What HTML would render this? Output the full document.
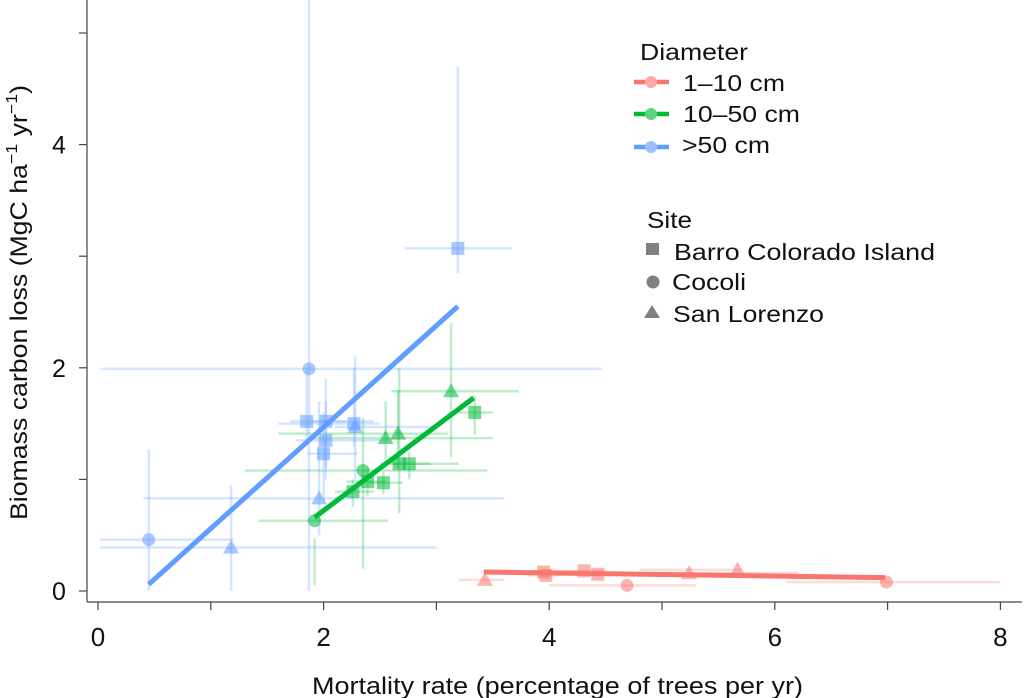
<!DOCTYPE html>
<html><head><meta charset="utf-8"><style>
body{margin:0;background:#fff}
svg{display:block;font-family:"Liberation Sans",sans-serif}
</style></head><body>
<svg id="chart" width="1024" height="698" viewBox="0 0 1024 698">
<g id="bars"></g>
<g id="marks"></g>
<g id="lines"></g>
<g id="axes"></g>
<text x="312" y="694" font-size="24" textLength="491" lengthAdjust="spacingAndGlyphs" fill="#111">Mortality rate (percentage of trees per yr)</text>
<text transform="translate(27,520) rotate(-90)" font-size="24" textLength="435" lengthAdjust="spacingAndGlyphs" fill="#111">Biomass carbon loss (MgC ha<tspan dy="-10" font-size="16">−1</tspan><tspan dy="10"> yr</tspan><tspan dy="-10" font-size="16">−1</tspan><tspan dy="10">)</tspan></text>
<g font-size="23" fill="#111">
<text x="640" y="60" textLength="108" lengthAdjust="spacingAndGlyphs">Diameter</text>
<g><line x1="634" y1="82" x2="669" y2="82" stroke="#f8766d" stroke-width="4.5"/><circle cx="651" cy="82" r="6" fill="#fbaaa4"/><text x="683" y="91" textLength="102" lengthAdjust="spacingAndGlyphs">1–10 cm</text></g>
<g><line x1="634" y1="114" x2="669" y2="114" stroke="#00ba38" stroke-width="4.5"/><circle cx="651" cy="114" r="6" fill="#5dd37f"/><text x="683" y="122" textLength="117" lengthAdjust="spacingAndGlyphs">10–50 cm</text></g>
<g><line x1="634" y1="147" x2="669" y2="147" stroke="#619cff" stroke-width="4.5"/><circle cx="651" cy="147" r="6" fill="#9cc0ff"/><text x="682" y="153" textLength="88" lengthAdjust="spacingAndGlyphs">&gt;50 cm</text></g>
<text x="647" y="228" textLength="45" lengthAdjust="spacingAndGlyphs">Site</text>
<g><rect x="646" y="243" width="13" height="12" fill="#808080"/><text x="674" y="260" textLength="261" lengthAdjust="spacingAndGlyphs">Barro Colorado Island</text></g>
<g><circle cx="653" cy="282" r="6.5" fill="#808080"/><text x="672" y="290" textLength="74" lengthAdjust="spacingAndGlyphs">Cocoli</text></g>
<g><polygon points="652,305 660,318 644,318" fill="#808080"/><text x="673" y="322" textLength="151" lengthAdjust="spacingAndGlyphs">San Lorenzo</text></g>
</g>
</svg>
<script>
// data
const groupNames=["1-10","10-50",">50"];
const colors=["#f8766d","#00ba38","#619cff"];
// site: 0=BCI square, 1=Cocoli circle, 2=San Lorenzo triangle
const redX=[3.43,3.97,3.95,4.31,4.43,4.69,5.24,5.67,6.99];
const redY=[0.10,0.14,0.17,0.18,0.15,0.05,0.16,0.19,0.08];
const redSite=[2,0,0,0,0,1,2,2,1];
const redXlo=[3.2,3.8,3.8,4.0,4.2,4.0,5.0,4.8,6.1];
const redXhi=[3.6,4.1,4.1,4.5,4.6,5.3,6.2,5.7,8.0];
const greenX=[1.92,2.35,2.26,2.39,2.53,2.67,2.76,3.34,2.55,2.66,3.13];
const greenY=[0.63,1.08,0.89,0.98,0.97,1.14,1.14,1.60,1.37,1.41,1.79];
const greenSite=[1,1,0,0,0,0,0,0,2,2,2];
const greenXlo=[1.42,1.3,2.1,2.2,2.4,2.5,2.6,3.2,1.9,1.6,2.6];
const greenXhi=[2.57,3.45,2.45,2.55,2.7,3.2,2.95,3.5,3.5,3.1,3.73];
const greenYlo=[0.05,0.2,0.75,0.85,0.87,0.7,1.0,1.4,1.15,1.1,1.2];
const greenYhi=[0.47,1.55,1.0,1.1,1.07,2.0,1.25,1.75,1.7,1.8,2.4];
const blueX=[1.87,0.45,1.18,1.96,1.85,2.02,2.02,2.0,2.27,2.28,3.19];
const blueY=[1.99,0.46,0.39,0.83,1.52,1.52,1.35,1.23,1.5,1.47,3.07];
const blueSite=[1,1,2,2,0,0,0,0,0,2,0];
const blueXlo=[0.0,0.0,0.0,0.4,1.7,1.9,1.75,1.85,1.6,2.1,2.72];
const blueXhi=[4.47,1.2,3.0,3.6,2.45,2.2,2.6,2.3,2.5,3.0,3.67];
const blueYlo=[0.0,0.0,0.0,0.5,1.3,1.0,1.1,0.8,1.3,1.0,2.85];
const blueYhi=[5.3,1.27,0.95,1.7,2.0,1.9,1.7,1.6,2.0,2.1,4.7];
const fitX=[[3.42,6.98],[1.92,3.33],[0.45,3.19]];
const fitY=[[0.17,0.12],[0.66,1.73],[0.06,2.55]];
const xTicks=[0,1,2,3,4,5,6,7,8];
const xLabels=["0","","2","","4","","6","","8"];
const yTicks=[0,1,2,3,4,5];
const yLabels=["0","","2","","4",""];

const sx=v=>98+v*112.8;
const sy=v=>591-v*111.6;
const NS="http://www.w3.org/2000/svg";
function mk(tag,attrs,parent){const e=document.createElementNS(NS,tag);for(const k in attrs)e.setAttribute(k,attrs[k]);parent.appendChild(e);return e;}
const bars=document.getElementById('bars'),marks=document.getElementById('marks'),lines=document.getElementById('lines'),axes=document.getElementById('axes');

function shape(site,x,y,col,parent){
  let e;
  if(site===0)e=mk('rect',{x:sx(x)-6.5,y:sy(y)-6.5,width:13,height:13,fill:col,opacity:0.55},parent);
  else if(site===1)e=mk('circle',{cx:sx(x),cy:sy(y),r:6.5,fill:col,opacity:0.55},parent);
  else e=mk('polygon',{points:`${sx(x)},${sy(y)-8} ${sx(x)+8},${sy(y)+6} ${sx(x)-8},${sy(y)+6}`,fill:col,opacity:0.55},parent);
  
  
}
function group(X,Y,S,Xlo,Xhi,Ylo,Yhi,col){
  for(let i=0;i<X.length;i++){
    const h=mk('line',{x1:sx(Math.max(Xlo[i],0.02)),x2:sx(Xhi[i]),y1:sy(Y[i]),y2:sy(Y[i]),stroke:col,'stroke-width':2.5,opacity:0.25},bars);
    
    
    if(Ylo){
      const v=mk('line',{x1:sx(X[i]),x2:sx(X[i]),y1:sy(Ylo[i]),y2:sy(Yhi[i]),stroke:col,'stroke-width':2.5,opacity:0.25},bars);
      
      
    }
    shape(S[i],X[i],Y[i],col,marks);
  }
}
group(redX,redY,redSite,redXlo,redXhi,null,null,colors[0]);
group(greenX,greenY,greenSite,greenXlo,greenXhi,greenYlo,greenYhi,colors[1]);
group(blueX,blueY,blueSite,blueXlo,blueXhi,blueYlo,blueYhi,colors[2]);
for(let g=0;g<3;g++){
  const l=mk('line',{x1:sx(fitX[g][0]),x2:sx(fitX[g][1]),y1:sy(fitY[g][0]),y2:sy(fitY[g][1]),stroke:colors[g],'stroke-width':5},lines);
  
  
}
mk('line',{x1:87,x2:87,y1:0,y2:602,stroke:'#444','stroke-width':1.2},axes);
mk('line',{x1:87,x2:1022,y1:602,y2:602,stroke:'#444','stroke-width':1.2},axes);
yTicks.forEach((t,i)=>{
  mk('line',{x1:79,x2:87,y1:sy(t),y2:sy(t),stroke:'#444','stroke-width':1.2},axes);
  if(yLabels[i]){const tx=mk('text',{x:59,y:sy(t)+9,'font-size':25,'text-anchor':'middle',fill:'#111'},axes);tx.textContent=yLabels[i];
  
  }
});
xTicks.forEach((t,i)=>{
  mk('line',{x1:sx(t),x2:sx(t),y1:602,y2:610,stroke:'#444','stroke-width':1.2},axes);
  if(xLabels[i]){const tx=mk('text',{x:sx(t),y:646,'font-size':26,'text-anchor':'middle',fill:'#111'},axes);tx.textContent=xLabels[i];
  
  }
});
</script>
</body></html>
